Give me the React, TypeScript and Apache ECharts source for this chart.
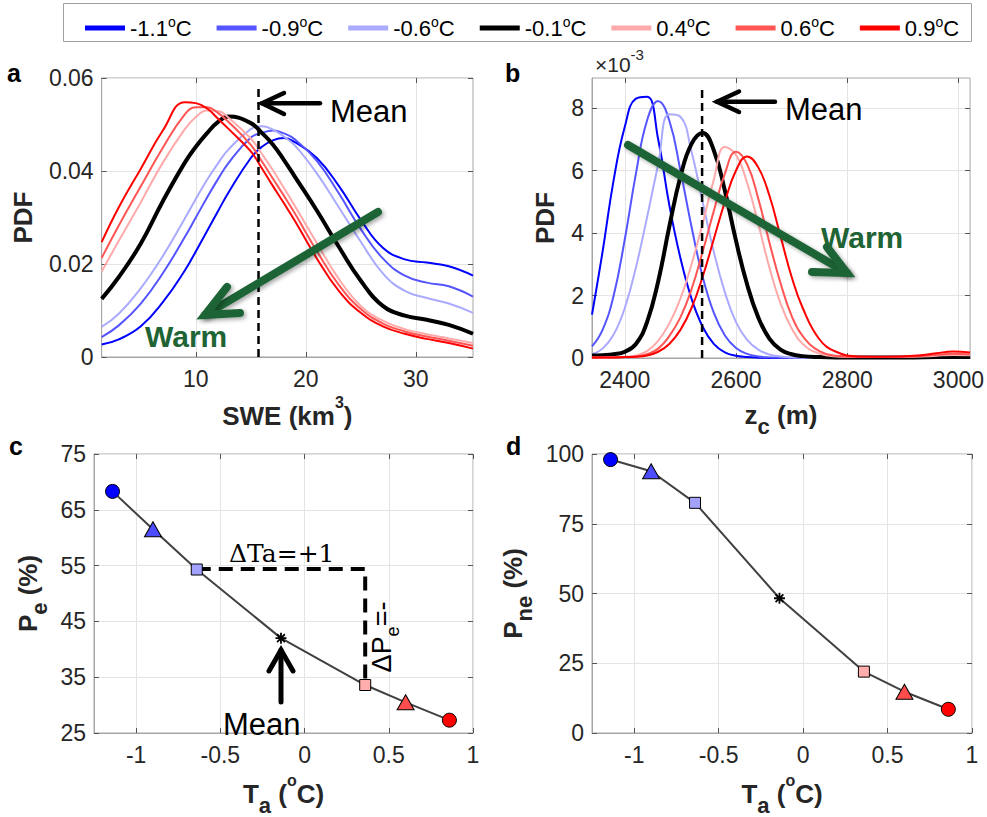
import React, { useEffect, useRef } from "react";
import * as echarts from "echarts";

const FONT = "'Liberation Sans', Arial, Helvetica, sans-serif";
const SERIF = "'DejaVu Serif', 'Liberation Serif', serif";
const TXT = "#262626";
const BOX = "#a6a6a6";
const GRIDC = "#e4e4e4";
const GREEN = "#1f6435";

// ---- legend / temperature scenarios ----
const tempNames = ["-1.1°C", "-0.9°C", "-0.6°C", "-0.1°C", "0.4°C", "0.6°C", "0.9°C"];
const tempColors = ["#0000ff", "#5555ff", "#aaaaff", "#000000", "#ffaaaa", "#ff5555", "#ff0000"];
const tempWidths = [2, 2, 2, 4, 2, 2, 2];

// ---- panel a: PDF of SWE (km^3) ----
const sweGrid = [1.44, 3, 5, 7, 9, 10, 11, 12, 13, 15, 16, 17, 18, 19, 21, 23, 25, 27, 29, 31, 33, 35.2];
const swe_m11 = [0.0027, 0.0038, 0.0066, 0.0118, 0.0186, 0.0227, 0.027, 0.0313, 0.0355, 0.0428, 0.0452, 0.0466, 0.0471, 0.0462, 0.0428, 0.0368, 0.0295, 0.0235, 0.021, 0.0203, 0.0195, 0.0175];
const swe_m09 = [0.0043, 0.0068, 0.0115, 0.018, 0.0258, 0.03, 0.0342, 0.0382, 0.0418, 0.0472, 0.0482, 0.0487, 0.0481, 0.0468, 0.0422, 0.0352, 0.0275, 0.0212, 0.0175, 0.016, 0.0152, 0.013];
const swe_m06 = [0.0065, 0.0093, 0.0148, 0.0217, 0.0298, 0.034, 0.038, 0.0416, 0.0447, 0.049, 0.0496, 0.0489, 0.0474, 0.0455, 0.0395, 0.0322, 0.0248, 0.018, 0.0142, 0.0127, 0.0115, 0.0095];
const swe_m01 = [0.0125, 0.0172, 0.0244, 0.0335, 0.0418, 0.0452, 0.0481, 0.0505, 0.0517, 0.0503, 0.0482, 0.0457, 0.0424, 0.0388, 0.0315, 0.0237, 0.0164, 0.011, 0.0089, 0.008, 0.0069, 0.005];
const swe_p04 = [0.0184, 0.025, 0.0333, 0.0418, 0.049, 0.0516, 0.053, 0.0529, 0.0514, 0.047, 0.0437, 0.0402, 0.0364, 0.0325, 0.0245, 0.0168, 0.011, 0.0078, 0.006, 0.0049, 0.004, 0.003];
const swe_p06 = [0.0213, 0.0283, 0.0367, 0.045, 0.0522, 0.0537, 0.0537, 0.0525, 0.0505, 0.0456, 0.0421, 0.0384, 0.0347, 0.0309, 0.0228, 0.0155, 0.0103, 0.0072, 0.0055, 0.0044, 0.0035, 0.0024];
const swe_p09 = [0.0247, 0.0322, 0.0405, 0.0487, 0.0548, 0.0546, 0.0535, 0.0513, 0.049, 0.0442, 0.0406, 0.0368, 0.0331, 0.0293, 0.0212, 0.0142, 0.0095, 0.0066, 0.005, 0.0039, 0.003, 0.0018];
const sweMean = 15.7;
const sweMeanTop = 0.058;
const sweTicksX = [10, 20, 30];
const sweTicksY = [0, 0.02, 0.04, 0.06];

// ---- panel b: PDF of z_c (m), values in units of 1e-3 ----
const zcGrid = [2341, 2360, 2380, 2400, 2420, 2440, 2460, 2480, 2500, 2520, 2540, 2560, 2580, 2600, 2620, 2640, 2660, 2680, 2700, 2720, 2750, 2780, 2820, 2870, 2920, 2960, 2990, 3021];
const zc_m11 = [1.39, 3.4, 5.7, 7.4, 8.3, 8.36, 7.0, 4.9, 3.2, 1.9, 1.0, 0.45, 0.18, 0.07, 0.03, 0.01, 0, 0, 0, 0, 0, 0, 0, 0, 0, 0, 0, 0];
const zc_m09 = [0.37, 0.9, 2.0, 3.8, 5.9, 7.6, 8.22, 7.6, 6.0, 4.2, 2.6, 1.45, 0.72, 0.32, 0.13, 0.05, 0.02, 0.01, 0, 0, 0, 0, 0, 0, 0, 0, 0, 0];
const zc_m06 = [0.12, 0.3, 0.75, 1.6, 2.9, 4.5, 6.2, 7.8, 7.72, 6.6, 5.0, 3.4, 2.1, 1.15, 0.58, 0.27, 0.11, 0.05, 0.02, 0.01, 0, 0, 0, 0, 0, 0, 0, 0];
const zc_m01 = [0.08, 0.09, 0.12, 0.2, 0.45, 1.15, 2.45, 4.2, 5.8, 6.85, 7.2, 6.65, 5.35, 3.75, 2.35, 1.3, 0.62, 0.27, 0.12, 0.06, 0.03, 0.02, 0.02, 0.02, 0.02, 0.03, 0.03, 0.03];
const zc_p04 = [0.02, 0.02, 0.03, 0.04, 0.08, 0.22, 0.55, 1.1, 1.9, 3.0, 4.3, 5.7, 6.75, 6.5, 5.6, 4.3, 2.9, 1.75, 0.95, 0.45, 0.14, 0.05, 0.03, 0.03, 0.04, 0.07, 0.1, 0.09];
const zc_p06 = [0.02, 0.02, 0.02, 0.03, 0.05, 0.12, 0.3, 0.7, 1.3, 2.2, 3.4, 4.7, 5.9, 6.6, 6.2, 5.1, 3.7, 2.4, 1.35, 0.7, 0.22, 0.07, 0.03, 0.03, 0.05, 0.1, 0.14, 0.12];
const zc_p09 = [0.02, 0.02, 0.02, 0.03, 0.04, 0.08, 0.2, 0.45, 0.9, 1.6, 2.6, 3.8, 5.0, 6.0, 6.45, 6.1, 5.2, 3.9, 2.6, 1.6, 0.6, 0.2, 0.05, 0.04, 0.07, 0.15, 0.21, 0.18];
const zcMean = 2539;
const zcMeanTop = 8.67;
const zcTicksX = [2400, 2600, 2800, 3000];
const zcTicksY = [0, 2, 4, 6, 8];

// ---- panels c, d ----
const taVals = [-1.14, -0.9, -0.64, -0.14, 0.36, 0.6, 0.86];
const peVals = [68.3, 61.5, 54.3, 42.0, 33.6, 30.5, 27.3];
const pneVals = [98.0, 93.8, 82.5, 48.3, 22.0, 14.8, 8.5];
const taTicks = [-1, -0.5, 0, 0.5, 1];
const peTicks = [25, 35, 45, 55, 65, 75];
const pneTicks = [0, 25, 50, 75, 100];
const dTaX = [-0.64, 0.36];
const dTaY = 54.4;
const dPeBottom = 33.6;

const ASTERISK = "path://M5 0L5 10M0 5L10 5M1.46 1.46L8.54 8.54M1.46 8.54L8.54 1.46";
const markerSymbols = ["circle", "triangle", "rect", ASTERISK, "rect", "triangle", "circle"];
const markerSizes: any[] = [14, [17, 15], 11, 11, 11, [17, 15], 14];
const markerColors = ["#0000ff", "#4d4dff", "#a3a3ff", "none", "#ffadad", "#ff4d4d", "#ff0000"];

const sweSets = [swe_m11, swe_m09, swe_m06, swe_m01, swe_p04, swe_p06, swe_p09];
const zcSets = [zc_m11, zc_m09, zc_m06, zc_m01, zc_p04, zc_p06, zc_p09];

const richName = {
  sup: { fontFamily: FONT, fontSize: 16, fontWeight: "bold", color: TXT, lineHeight: 16, verticalAlign: "top" },
  sub: { fontFamily: FONT, fontSize: 22, fontWeight: "bold", color: TXT, lineHeight: 14, verticalAlign: "bottom" },
};

function fmt(v: number) {
  return String(+Number(v).toFixed(6));
}

function valAxis(gi: number, min: number, max: number, ticks: number[], name: string, nameGap: number, isY: boolean) {
  return {
    type: "value",
    gridIndex: gi,
    min,
    max,
    name,
    nameLocation: "middle",
    nameGap,
    nameRotate: isY ? 90 : 0,
    nameTextStyle: { fontFamily: FONT, fontSize: 26, fontWeight: "bold", color: TXT, lineHeight: 44, rich: richName },
    axisLine: { show: true, onZero: false, lineStyle: { color: BOX, width: 1 } },
    axisTick: { show: true, inside: true, length: 5, customValues: ticks, lineStyle: { color: "#555" } },
    axisLabel: { customValues: ticks, color: TXT, fontSize: 23, fontFamily: FONT, margin: isY ? 8 : 10, formatter: fmt },
    splitLine: { show: true, lineStyle: { color: GRIDC, width: 1 } },
  };
}

// mirrored tick marks on the top / right edges of each box
function mirrorAxis(gi: number, min: number, max: number, ticks: number[], position: string) {
  return {
    type: "value",
    gridIndex: gi,
    min,
    max,
    position,
    axisLine: { show: false, onZero: false },
    axisTick: { show: true, inside: true, length: 5, customValues: ticks, lineStyle: { color: "#555" } },
    axisLabel: { show: false },
    splitLine: { show: false },
  };
}

function pdfSeries(xs: number[], sets: number[][], gi: number) {
  return tempNames.map((name, k) => ({
    type: "line",
    name,
    xAxisIndex: gi,
    yAxisIndex: gi,
    data: xs.map((x, i) => [x, sets[k][i]]),
    smooth: 0.45,
    symbol: "none",
    showSymbol: false,
    lineStyle: { color: tempColors[k], width: tempWidths[k] },
    itemStyle: { color: tempColors[k] },
    silent: true,
    z: 2,
  }));
}

function markerSeries(ys: number[], gi: number) {
  return {
    type: "line",
    name: "markers" + gi,
    xAxisIndex: gi,
    yAxisIndex: gi,
    showAllSymbol: true,
    data: taVals.map((x, i) => ({
      value: [x, ys[i]],
      symbol: markerSymbols[i],
      symbolSize: markerSizes[i],
      itemStyle: {
        color: markerColors[i],
        borderColor: "#000",
        borderWidth: i === 3 ? 1.8 : 1,
      },
    })),
    lineStyle: { color: "#404040", width: 2 },
    silent: true,
    z: 3,
  };
}

function dashed(gi: number, pts: number[][], width: number, dash: number[]) {
  return {
    type: "line",
    xAxisIndex: gi,
    yAxisIndex: gi,
    data: pts,
    symbol: "none",
    lineStyle: { color: "#000", width, type: dash },
    silent: true,
    z: 2,
  };
}

function arrow(tip: number[], tail: number[], a1: number[], a2: number[], color: string, w: number, shadow = false) {
  const sh = shadow ? { shadowBlur: 4, shadowColor: "rgba(0,0,0,0.35)", shadowOffsetX: 2, shadowOffsetY: 2 } : {};
  return [
    { type: "line", z: 20, shape: { x1: tail[0], y1: tail[1], x2: tip[0], y2: tip[1] }, style: { stroke: color, lineWidth: w, lineCap: "round", ...sh } },
    { type: "polyline", z: 20, shape: { points: [a1, tip, a2] }, style: { stroke: color, lineWidth: w, fill: null, lineCap: "round", lineJoin: "miter", ...sh } },
  ];
}

function txt(x: number, y: number, text: string, size: number, family: string, weight: string, fill: string, extra: any = {}) {
  return {
    type: "text",
    x,
    y,
    z: 21,
    ...extra,
    style: { text, fontSize: size, fontFamily: family, fontWeight: weight, fill, verticalAlign: "middle", ...(extra.style || {}) },
  };
}

const option: any = {
  animation: false,
  backgroundColor: "#ffffff",
  legend: {
    data: tempNames,
    left: 80,
    top: 10,
    itemWidth: 40,
    itemHeight: 5,
    itemGap: 25,
    icon: "rect",
    selectedMode: false,
    formatter: (name: string) => name.replace("°", "{sup|o}"),
    textStyle: {
      fontFamily: FONT,
      fontSize: 22,
      lineHeight: 26,
      color: "#000",
      rich: { sup: { fontFamily: FONT, fontSize: 14, color: "#000", lineHeight: 18, verticalAlign: "top" } },
    },
  },
  grid: [
    { left: 94, top: 78, width: 379, height: 279, show: true, borderColor: BOX, borderWidth: 1 },
    { left: 592, top: 78, width: 380, height: 280, show: true, borderColor: BOX, borderWidth: 1 },
    { left: 94, top: 454, width: 379, height: 281, show: true, borderColor: BOX, borderWidth: 1 },
    { left: 592, top: 454, width: 380, height: 281, show: true, borderColor: BOX, borderWidth: 1 },
  ],
  xAxis: [
    valAxis(0, 1.44, 35.2, sweTicksX, "SWE (km{sup|3})", 37, false),
    valAxis(1, 2341, 3021, zcTicksX, "z{sub|c} (m)", 35, false),
    valAxis(2, -1.25, 1, taTicks, "T{sub|a} ({sup|o}C)", 39, false),
    valAxis(3, -1.25, 1, taTicks, "T{sub|a} ({sup|o}C)", 39, false),
    mirrorAxis(0, 1.44, 35.2, sweTicksX, "top"),
    mirrorAxis(1, 2341, 3021, zcTicksX, "top"),
    mirrorAxis(2, -1.25, 1, taTicks, "top"),
    mirrorAxis(3, -1.25, 1, taTicks, "top"),
  ],
  yAxis: [
    valAxis(0, 0, 0.06, sweTicksY, "PDF", 52, true),
    valAxis(1, 0, 8.96, zcTicksY, "PDF", 18, true),
    valAxis(2, 25, 75, peTicks, "P{sub|e} (%)", 44, true),
    valAxis(3, 0, 100, pneTicks, "P{sub|ne} (%)", 57, true),
    mirrorAxis(0, 0, 0.06, sweTicksY, "right"),
    mirrorAxis(1, 0, 8.96, zcTicksY, "right"),
    mirrorAxis(2, 25, 75, peTicks, "right"),
    mirrorAxis(3, 0, 100, pneTicks, "right"),
  ],
  series: [
    ...pdfSeries(sweGrid, sweSets, 0),
    dashed(0, [[sweMean, 0], [sweMean, sweMeanTop]], 2.5, [8, 5]),
    ...pdfSeries(zcGrid, zcSets, 1),
    dashed(1, [[zcMean, 0], [zcMean, zcMeanTop]], 2.5, [8, 5]),
    dashed(2, [[dTaX[0], dTaY], [dTaX[1], dTaY], [dTaX[1], dPeBottom]], 4, [14, 8]),
    markerSeries(peVals, 2),
    markerSeries(pneVals, 3),
  ],
  graphic: [
    { type: "rect", z: 0, shape: { x: 63.5, y: 3.5, width: 908, height: 38 }, style: { fill: "none", stroke: "#a0a0a0", lineWidth: 1 } },
    txt(7, 73, "a", 25, FONT, "bold", "#000"),
    txt(505, 73, "b", 25, FONT, "bold", "#000"),
    txt(9, 446, "c", 25, FONT, "bold", "#000"),
    txt(506, 446, "d", 25, FONT, "bold", "#000"),
    txt(595, 64, "×10{s|-3}", 21, FONT, "normal", TXT, {
      style: { lineHeight: 34, rich: { s: { fontSize: 15, fontFamily: FONT, fill: TXT, lineHeight: 14, verticalAlign: "top" } } },
    }),
    // mean arrows
    ...arrow([262, 103.3], [320, 103.3], [284, 93], [284, 114], "#000", 4.5),
    txt(330, 111, "Mean", 31, FONT, "normal", "#000"),
    ...arrow([717, 101.7], [775, 101.7], [739, 91.5], [739, 112], "#000", 4.5),
    txt(785, 109, "Mean", 31, FONT, "normal", "#000"),
    ...arrow([281, 650], [281, 702], [269, 671], [293, 671], "#000", 5),
    txt(223, 724, "Mean", 31, FONT, "normal", "#000"),
    // warm arrows
    ...arrow([205, 315], [378, 212], [227, 287], [240, 313], GREEN, 8, true),
    txt(145, 336, "Warm", 30, FONT, "bold", GREEN),
    ...arrow([847, 273], [628, 145], [812, 272], [827, 247], GREEN, 8, true),
    txt(821, 237, "Warm", 30, FONT, "bold", GREEN),
    // panel c annotations
    txt(229, 553, "ΔTa=+1", 25, SERIF, "normal", "#000"),
    txt(382, 637, "ΔP{s|e}=-", 27, FONT, "normal", "#000", {
      rotation: Math.PI / 2,
      style: { align: "center", lineHeight: 40, rich: { s: { fontSize: 18, fontFamily: FONT, fill: "#000", lineHeight: 14, verticalAlign: "bottom" } } },
    }),
  ],
};

export default function App() {
  const ref = useRef<HTMLDivElement>(null);
  useEffect(() => {
    if (!ref.current) return;
    const chart = echarts.init(ref.current, undefined, { renderer: "svg" });
    chart.setOption(option);
    return () => chart.dispose();
  }, []);
  return (
    <div
      ref={ref}
      style={{ position: "fixed", left: 0, top: 0, width: 987, height: 817, background: "#fff" }}
    />
  );
}
